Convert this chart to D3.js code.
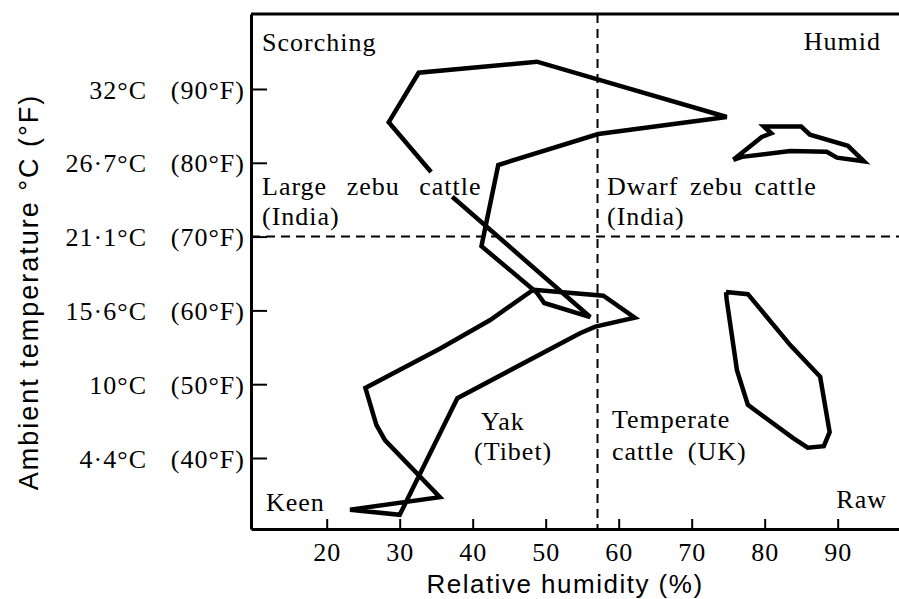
<!DOCTYPE html>
<html>
<head>
<meta charset="utf-8">
<script src="https://cdn.jsdelivr.net/npm/d3@7"></script>
<style>
  html, body { margin: 0; padding: 0; background: #fff; }
  svg text { fill: #000; }
  .serif { font-family: "Liberation Serif", "DejaVu Serif", serif; font-size: 26px; letter-spacing: 1px; word-spacing: 4px; }
  .sans { font-family: "Liberation Sans", Arial, sans-serif; }
</style>
</head>
<body>
<div id="chart"></div>
<script>
// humidity (%) vs ambient temperature (°F)
var humTicks = [20, 30, 40, 50, 60, 70, 80, 90];
var fTicks = [40, 50, 60, 70, 80, 90];
var cLabels = ["4·4°C", "10°C", "15·6°C", "21·1°C", "26·7°C", "32°C"];
var fLabels = ["(40°F)", "(50°F)", "(60°F)", "(70°F)", "(80°F)", "(90°F)"];

// dividing lines
var humSplit = 57.1;
var tempSplit = 70;

// large zebu cattle (India), open where the label sits
var zebuHum = [37.2, 56.1, 49.8, 48.8, 41.2, 43.5, 57.2, 74.8, 48.8, 32.6, 28.5, 34.3];
var zebuTemp = [75.4, 59.1, 61.0, 62.4, 68.7, 79.7, 83.9, 86.2, 93.7, 92.2, 85.5, 78.75];

// yak (Tibet)
var yakHum = [48.3, 57.9, 62.2, 56.8, 54.7, 37.9, 30.0, 23.2, 35.5, 28.0, 26.8, 25.3, 35.5, 42.4, 48.3];
var yakTemp = [62.8, 62.0, 59.0, 57.8, 56.9, 48.1, 32.3, 33.0, 34.7, 42.4, 44.5, 49.5, 54.8, 58.7, 62.8];

// dwarf zebu cattle (India)
var dwarfHum = [75.7, 79.6, 80.9, 79.9, 85.0, 86.2, 91.4, 93.6, 89.9, 88.5, 83.5, 76.9, 75.7];
var dwarfTemp = [80.4, 83.5, 84.0, 84.9, 84.9, 83.8, 82.3, 80.2, 80.7, 81.5, 81.6, 80.8, 80.4];

// temperate cattle (UK)
var tempHum = [74.7, 77.7, 83.5, 87.6, 88.9, 88.1, 85.9, 83.9, 77.7, 76.2, 74.8, 74.7];
var tempTemp = [62.5, 62.2, 55.3, 51.0, 43.5, 41.6, 41.4, 42.7, 47.2, 51.9, 61.4, 62.5];

var W = 899, H = 599;
var pLeft = 251, pRight = 899, pTop = 14, pBottom = 529;

var svg = d3.select("#chart").append("svg")
  .attr("width", W)
  .attr("height", H);

var x = d3.scaleLinear().domain([9.63, 98.4]).range([pLeft, pRight]);
var y = d3.scaleLinear().domain([30.38, 100.16]).range([pBottom, pTop]);

// dashed quadrant lines
svg.append("line")
  .attr("x1", x(humSplit)).attr("x2", x(humSplit))
  .attr("y1", pTop).attr("y2", pBottom)
  .attr("stroke", "#000").attr("stroke-width", 2)
  .attr("stroke-dasharray", "9,6");
svg.append("line")
  .attr("x1", pLeft).attr("x2", pRight)
  .attr("y1", y(tempSplit)).attr("y2", y(tempSplit))
  .attr("stroke", "#000").attr("stroke-width", 2)
  .attr("stroke-dasharray", "9,6");

// frame top
svg.append("line")
  .attr("x1", pLeft).attr("x2", pRight)
  .attr("y1", pTop).attr("y2", pTop)
  .attr("stroke", "#000").attr("stroke-width", 3);

// x axis
var xAxis = svg.append("g")
  .attr("transform", "translate(0," + pBottom + ")")
  .call(d3.axisBottom(x).tickValues(humTicks).tickSizeInner(-10).tickSizeOuter(0).tickPadding(14));
xAxis.select(".domain").attr("stroke-width", 3);
xAxis.selectAll(".tick line").attr("stroke-width", 2);
xAxis.selectAll("text")
  .attr("class", "serif")
  .attr("font-size", null)
  .attr("font-family", null);
xAxis.attr("font-size", null).attr("font-family", null);

// y axis
var yAxis = svg.append("g")
  .attr("transform", "translate(" + pLeft + ",0)")
  .call(d3.axisLeft(y).tickValues(fTicks).tickSizeInner(-16).tickSizeOuter(0).tickFormat(""));
yAxis.select(".domain").attr("stroke-width", 3);
yAxis.selectAll(".tick line").attr("stroke-width", 2);
yAxis.attr("font-size", null).attr("font-family", null);
yAxis.selectAll(".tick").each(function (d, i) {
  var g = d3.select(this);
  g.append("text")
    .attr("class", "serif")
    .attr("x", -104).attr("dy", "0.35em")
    .attr("text-anchor", "end")
    .text(cLabels[i]);
  g.append("text")
    .attr("class", "serif")
    .attr("x", -6).attr("dy", "0.35em")
    .attr("text-anchor", "end")
    .text(fLabels[i]);
});

// curves
var line = d3.line()
  .x(function (d) { return x(d[0]); })
  .y(function (d) { return y(d[1]); });

function curve(hum, temp) {
  svg.append("path")
    .datum(d3.zip(hum, temp))
    .attr("d", line)
    .attr("fill", "none")
    .attr("stroke", "#000")
    .attr("stroke-width", 4.5)
    .attr("stroke-linejoin", "miter");
}
curve(zebuHum, zebuTemp);
curve(yakHum, yakTemp);
curve(dwarfHum, dwarfTemp);
curve(tempHum, tempTemp);

// region labels
var labels = [
  { t: "Scorching", x: 262, y: 51, a: "start", ws: 4 },
  { t: "Humid", x: 881, y: 50, a: "end", ws: 4 },
  { t: "Large zebu cattle", x: 262, y: 195, a: "start", ws: 12 },
  { t: "(India)", x: 262, y: 225, a: "start", ws: 4 },
  { t: "Dwarf zebu cattle", x: 607, y: 195, a: "start", ws: 4 },
  { t: "(India)", x: 607, y: 225, a: "start", ws: 4 },
  { t: "Yak", x: 481, y: 430, a: "start", ws: 4 },
  { t: "(Tibet)", x: 474, y: 460, a: "start", ws: 4 },
  { t: "Temperate", x: 612, y: 428, a: "start", ws: 4 },
  { t: "cattle (UK)", x: 612, y: 460, a: "start", ws: 6 },
  { t: "Keen", x: 266, y: 511, a: "start", ws: 4 },
  { t: "Raw", x: 887, y: 508, a: "end", ws: 4 }
];
svg.selectAll(".lbl")
  .data(labels)
  .enter().append("text")
  .attr("class", "serif lbl")
  .attr("x", function (d) { return d.x; })
  .attr("y", function (d) { return d.y; })
  .attr("text-anchor", function (d) { return d.a; })
  .style("word-spacing", function (d) { return d.ws + "px"; })
  .text(function (d) { return d.t; });

// axis titles
svg.append("text")
  .attr("class", "sans")
  .attr("x", 565).attr("y", 593)
  .attr("text-anchor", "middle")
  .style("font-size", "26px")
  .style("letter-spacing", "1.5px")
  .text("Relative humidity (%)");

svg.append("text")
  .attr("class", "sans")
  .attr("transform", "translate(38,292) rotate(-90)")
  .attr("text-anchor", "middle")
  .style("font-size", "27px")
  .style("letter-spacing", "2px")
  .text("Ambient temperature °C (°F)");
</script>
</body>
</html>
